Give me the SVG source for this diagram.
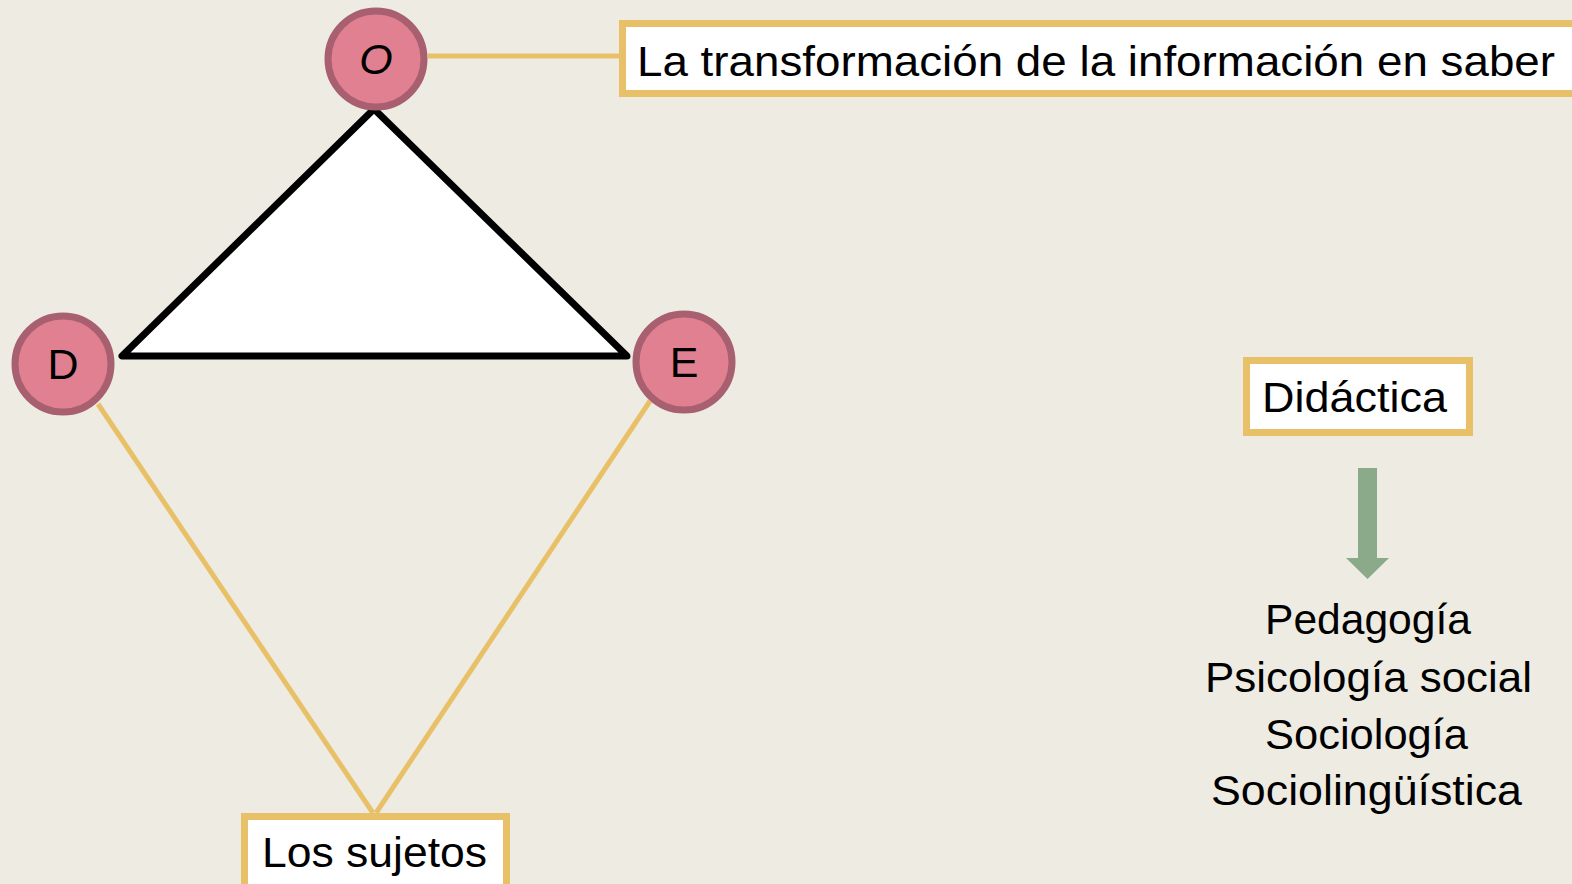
<svg xmlns="http://www.w3.org/2000/svg" width="1572" height="884" viewBox="0 0 1572 884">
<style>
.bg{fill:#EEEBE2}
.node circle{fill:#E08090;stroke:#A86070;stroke-width:7}
.box rect{fill:#FFFFFF;stroke:#E8C068;stroke-width:7}
.t{font-family:"Liberation Sans",Arial,sans-serif;font-size:43px;fill:#000}
.conn line{stroke:#E8C068;stroke-width:5}
</style>
<rect class="bg" x="0" y="0" width="1572" height="884"/>
<g id="triangle">
<polygon points="374,109 122,356 627,356" fill="#FFFFFF" stroke="#000" stroke-width="7" stroke-linejoin="round"/>
</g>
<g id="connectors" class="conn">
<line x1="428" y1="56" x2="622" y2="56"/>
<line x1="98" y1="404" x2="373" y2="813"/>
<line x1="650" y1="401" x2="376" y2="813"/>
</g>
<g id="node-O" class="node">
<circle cx="376" cy="59" r="48"/>
<text class="t" x="376" y="74" text-anchor="middle" font-style="italic">O</text>
</g>
<g id="node-D" class="node">
<circle cx="63" cy="364" r="48"/>
<text class="t" x="63" y="379" text-anchor="middle">D</text>
</g>
<g id="node-E" class="node">
<circle cx="684" cy="362" r="48"/>
<text class="t" x="684" y="377" text-anchor="middle">E</text>
</g>
<g id="box-info" class="box">
<rect x="622.5" y="23.5" width="970" height="70"/>
<text class="t" x="637" y="76" textLength="918" lengthAdjust="spacingAndGlyphs">La transformación de la información en saber</text>
</g>
<g id="box-sujetos" class="box">
<rect x="244.5" y="816.5" width="262" height="80"/>
<text class="t" x="262" y="867" textLength="225" lengthAdjust="spacingAndGlyphs">Los sujetos</text>
</g>
<g id="box-didactica" class="box">
<rect x="1246.5" y="360.5" width="223" height="72"/>
<text class="t" x="1262" y="412" textLength="185" lengthAdjust="spacingAndGlyphs">Didáctica</text>
</g>
<g id="arrow">
<polygon points="1358,468 1377,468 1377,558 1389,558 1367.5,579 1346,558 1358,558" fill="#8BAA8A"/>
</g>
<g id="list">
<text class="t" x="1265" y="634" textLength="206" lengthAdjust="spacingAndGlyphs">Pedagogía</text>
<text class="t" x="1205" y="692" textLength="327" lengthAdjust="spacingAndGlyphs">Psicología social</text>
<text class="t" x="1265" y="749" textLength="203" lengthAdjust="spacingAndGlyphs">Sociología</text>
<text class="t" x="1211" y="805" textLength="311" lengthAdjust="spacingAndGlyphs">Sociolingüística</text>
</g>
</svg>
